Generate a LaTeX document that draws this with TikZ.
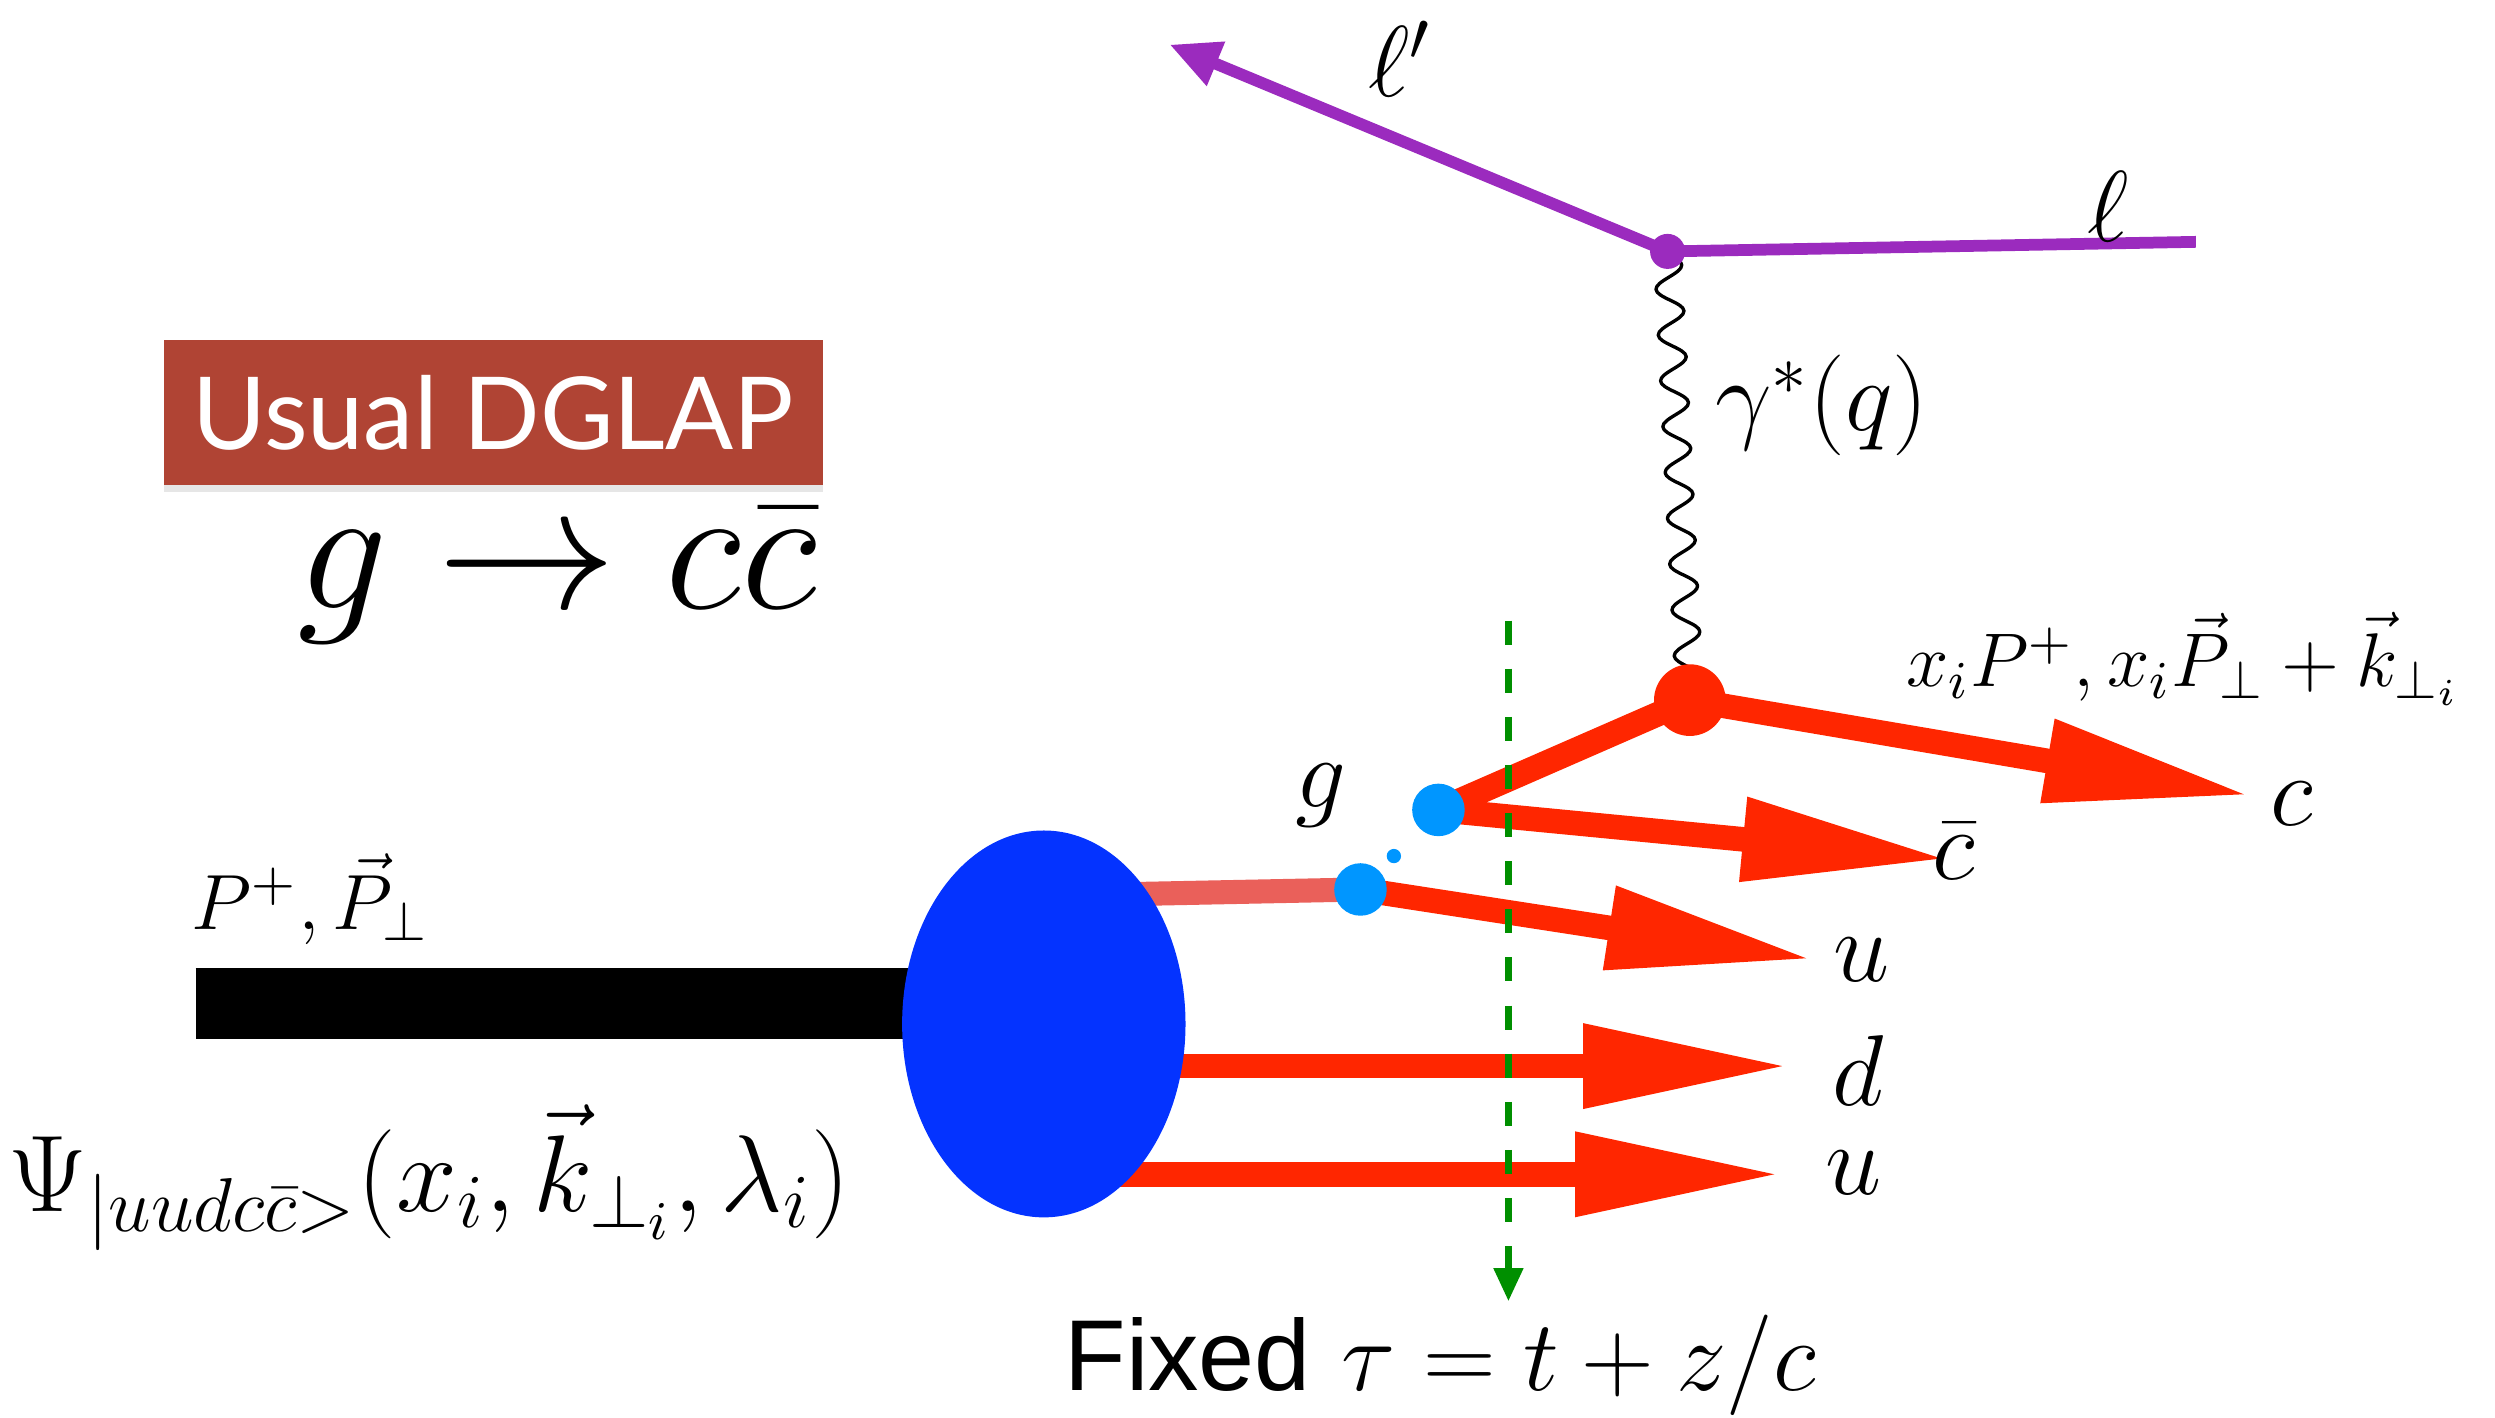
\RequirePackage{fix-cm}
\documentclass[tikz,border=0pt]{standalone}
\usepackage{fontspec}
\usetikzlibrary{arrows.meta,decorations.pathmorphing,shapes.geometric,shadows}
\newfontfamily\boxfont{Lato}
\newfontfamily\cutfont{Liberation Sans}
\definecolor{lepcol}{RGB}{155,43,190}
\definecolor{qcol}{RGB}{255,38,0}
\definecolor{pinkcol}{RGB}{234,96,90}
\definecolor{blobcol}{RGB}{4,51,255}
\definecolor{dotcol}{RGB}{0,150,255}
\definecolor{cutcol}{RGB}{0,143,0}
\definecolor{boxcol}{RGB}{176,68,52}
\tikzset{
  quark/.style={draw=qcol, line width=4.4pt, -{Triangle[length=37pt,width=14pt]}},
  lepton/.style={draw=lepcol, line width=2.1pt},
  lab/.style={inner sep=0pt, font=\fontsize{18}{20}\selectfont},
  bdot/.style={circle, fill=dotcol, inner sep=0pt, minimum size=0.33cm},
}
\begin{document}
\begin{tikzpicture}[x=0.01cm, y=-0.01cm, line join=round]
\useasboundingbox (0,0) rectangle (1568,891);
\coordinate (lin) at (1380,152);
\coordinate (vl) at (1048,158);
\coordinate (lout) at (735,28);
\coordinate (vq) at (1062,440);
\coordinate (cend) at (1415,500);
\coordinate (g) at (904,509);
\coordinate (cbend) at (1225,540);
\coordinate (q2) at (855,559);
\coordinate (uend) at (1140,603);
\coordinate (pin) at (123,630.5);
\coordinate (dstart) at (656,670);
\coordinate (dend) at (1125,670);
\coordinate (ustart) at (656,738);
\coordinate (u2end) at (1120,738);
\coordinate (pstart) at (656,563);
\coordinate (cuttop) at (948,390);
\coordinate (cutbot) at (948,818);
\draw[line width=12.75pt] (pin) -- (656,630.5);
\draw[quark] (dstart) -- (dend);
\draw[quark] (ustart) -- (u2end);
\draw[pinkcol, line width=4.3pt] (pstart) -- (q2);
\node[ellipse, fill=blobcol, minimum width=1.78cm, minimum height=2.43cm, inner sep=0pt] (blob) at (656,643.5) {};
\draw[lepton] (lin) -- (vl);
\draw[lepton, -{Triangle[length=9pt,width=8pt]}] (vl) -- (lout);
\draw[line width=0.6pt, decorate, decoration={snake, amplitude=2.4pt, segment length=8.2pt}] (vl) -- (vq);
\draw[qcol, line width=4.4pt] (g) -- (vq);
\draw[quark] (vq) -- (cend);
\draw[quark] (g) -- (cbend);
\draw[quark] (q2) -- (uend);
\node[circle, fill=qcol, inner sep=0pt, minimum size=0.45cm] (qv) at (vq) {};
\node[circle, fill=lepcol, inner sep=0pt, minimum size=0.22cm] (lv) at (vl) {};
\node[bdot] (gd) at (g) {};
\node[bdot] (qd) at (q2) {};
\node[circle, fill=dotcol, inner sep=0pt, minimum size=0.09cm] (sd) at (876,538) {};
\draw[cutcol, line width=1.4pt, dash pattern=on 4.3pt off 4.3pt, -{Triangle[length=6pt,width=5pt]}] (cuttop) -- (cutbot);
\node[lab] (lpl) at (880,37) {$\ell'$};
\node[lab] (ll) at (1325,130) {$\ell$};
\node[lab] (gam) at (1145,255) {$\gamma^*(q)$};
\node[lab, font=\fontsize{13.6}{15}\selectfont] (kin) at (1372,414) {$x_iP^+,x_i\vec{P}_\perp+\vec{k}_{\perp_i}$};
\node[lab] (cl) at (1440,505) {$c$};
\node[lab] (cbl) at (1228,535) {$\bar{c}$};
\node[lab] (gl) at (830,500) {$g$};
\node[lab] (ul) at (1170,603) {$u$};
\node[lab] (dl) at (1168,673) {$d$};
\node[lab] (u2l) at (1165,737) {$u$};
\node[lab, font=\fontsize{14}{16}\selectfont] (pl) at (195,565) {$P^+,\vec{P}_\perp$};
\node[lab, font=\fontsize{19.5}{22}\selectfont] (psi) at (270,740) {$\Psi_{|uudc\bar{c}>}(x_i,\vec{k}_{\perp_i},\lambda_i)$};
\node[lab, font=\fontsize{18}{20}\selectfont] (fix) at (905,858) {{\cutfont Fixed} $\tau=t+z/c$};
\node[fill=boxcol, text=white, minimum width=4.14cm, minimum height=0.91cm, drop shadow={opacity=0.2, shadow xshift=0pt, shadow yshift=-1.2pt}, font=\boxfont\fontsize{18}{20}\selectfont] (dglap) at (310,259.5) {Usual DGLAP};
\node[lab, font=\fontsize{32}{36}\selectfont] (split) at (350,362) {$g\rightarrow c\bar{c}$};
\end{tikzpicture}
\end{document}
